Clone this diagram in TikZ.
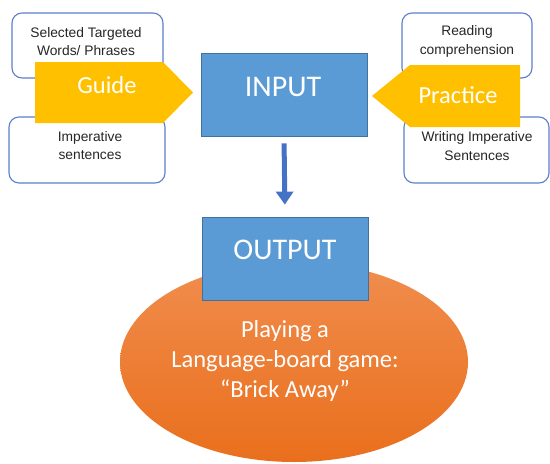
\documentclass[tikz,border=0pt]{standalone}
\usepackage{fontspec}
\setmainfont{Liberation Sans}
\newfontfamily\calfont{Carlito}
\usetikzlibrary{arrows.meta,shapes.geometric}
\definecolor{boxline}{RGB}{91,127,208}
\definecolor{gold}{RGB}{255,192,0}
\definecolor{blfill}{RGB}{91,155,213}
\definecolor{bldraw}{RGB}{65,113,156}
\definecolor{arrblue}{RGB}{68,114,196}
\definecolor{orTop}{RGB}{241,141,78}
\definecolor{orBot}{RGB}{233,111,28}
\tikzset{
  x=1pt,y=-1pt,
  txtbox/.style={draw=boxline,line width=1.1pt,rounded corners=10pt,fill=white},
  smalltxt/.style={font=\fontsize{13.8}{18.5}\selectfont,align=center,text=black!85},
  goldarrow/.style={fill=gold,draw=none},
  bigtxt/.style={font=\calfont\fontsize{24.5}{30}\selectfont,text=white,align=center},
  bluebox/.style={fill=blfill,draw=bldraw,line width=0.8pt},
}
\begin{document}
\begin{tikzpicture}
\useasboundingbox (0,0) rectangle (550,464);
% side boxes
\draw[txtbox] (12,13) rectangle (163,78);
\draw[txtbox] (9,117) rectangle (165,183);
\draw[txtbox] (402,13) rectangle (532,78);
\draw[txtbox] (404,117) rectangle (549,183);
\node[smalltxt] (t1) at (86,41.5) {Selected Targeted\\Words/ Phrases};
\node[smalltxt] (t2) at (90,145.5) {Imperative\\sentences};
\node[smalltxt] (t3) at (467,41.5) {Reading\\comprehension};
\node[smalltxt] (t4) at (477,146) {Writing Imperative\\Sentences};
% gold arrows
\fill[goldarrow] (35,62) -- (163,62) -- (193,92.5) -- (163,123) -- (35,123) -- cycle;
\fill[goldarrow] (520,65) -- (410,65) -- (372,96) -- (410,127) -- (520,127) -- cycle;
\node[bigtxt] (guide) at (107,85) {Guide};
\node[bigtxt] (practice) at (458,95) {Practice};
% input
\node[bluebox,minimum width=166pt,minimum height=83pt,inner sep=0pt] (input) at (284,94.5) {};
\node[font=\calfont\fontsize{30}{36}\selectfont,text=white] (inputlbl) at (283,87) {INPUT};
% ellipse
\shade[top color=orTop,bottom color=orBot] (294,362) ellipse [x radius=174,y radius=100];
\node[bigtxt] (game) at (285,361) {Playing a\\Language-board game:\\“Brick Away”};
% output
\node[bluebox,minimum width=166pt,minimum height=83pt,inner sep=0pt] (output) at (285,258.5) {};
\node[font=\calfont\fontsize{30}{36}\selectfont,text=white] (outputlbl) at (285,250) {OUTPUT};
% connector
\draw[arrblue,line width=5pt,-{Triangle[width=17pt,length=13pt]},shorten <=7pt,shorten >=12pt] (input.south) -- (output.north);
\end{tikzpicture}
\end{document}
